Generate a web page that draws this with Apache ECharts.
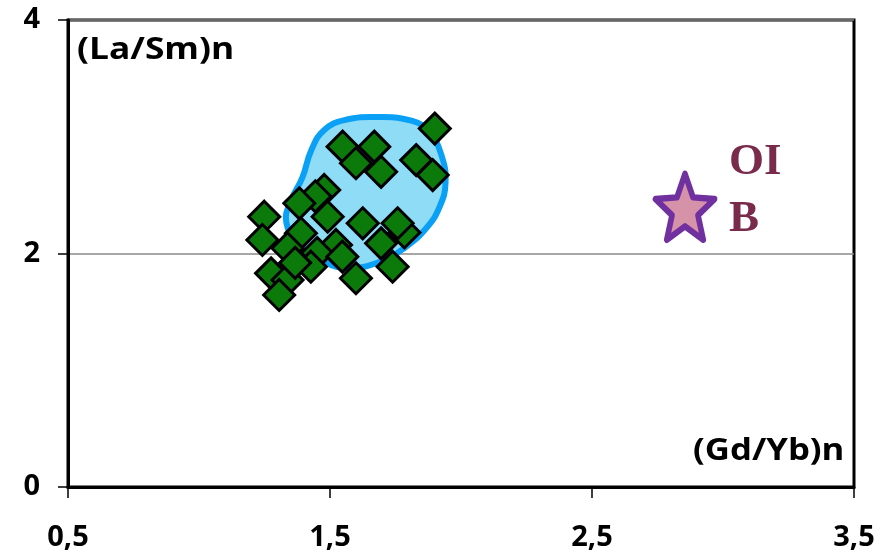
<!DOCTYPE html>
<html>
<head>
<meta charset="utf-8">
<script src="https://cdn.jsdelivr.net/npm/echarts@6/dist/echarts.min.js"></script>
<style>
  html, body { margin: 0; padding: 0; background: #ffffff; }
  #chart { width: 889px; height: 557px; }
</style>
</head>
<body>
<div id="chart"></div>
<script>
// (Gd/Yb)n and (La/Sm)n of the sample set
const sampleGdYb = [1.90, 1.548, 1.669, 1.599, 1.695, 1.829, 1.892, 1.478, 1.444, 1.383,
  1.491, 1.249, 1.389, 1.242, 1.338, 1.523, 1.451, 1.427, 1.275, 1.338,
  1.306, 1.625, 1.784, 1.758, 1.695, 1.739, 1.599, 1.547, 1.367];
const sampleLaSm = [3.07, 2.915, 2.915, 2.773, 2.70, 2.80, 2.672, 2.544, 2.49, 2.43,
  2.315, 2.315, 2.173, 2.116, 2.045, 2.073, 2.004, 1.887, 1.83, 1.773,
  1.645, 2.259, 2.18, 2.259, 2.087, 1.887, 1.788, 1.973, 1.92];

// Outline of the sample field
const fieldGdYb = [1.688, 1.814, 1.879, 1.925, 1.941, 1.918, 1.868, 1.784, 1.688, 1.574,
  1.478, 1.383, 1.333, 1.352, 1.394, 1.429, 1.478, 1.555];
const fieldLaSm = [3.169, 3.135, 3.041, 2.844, 2.604, 2.398, 2.218, 2.047, 1.927, 1.876,
  1.927, 2.073, 2.270, 2.458, 2.647, 2.887, 3.058, 3.143];

// Ocean island basalt reference point
const oibGdYb = [2.855];
const oibLaSm = [2.40];

const xTicks = [0.5, 1.5, 2.5, 3.5];
const yTicks = [0, 2, 4];

const starPath = 'path://M50 0 L62.93 32.2 L97.55 34.55 L70.92 56.8 L79.39 90.45 L50 72 L20.61 90.45 L29.08 56.8 L2.45 34.55 L37.07 32.2 Z';

const chart = echarts.init(document.getElementById('chart'), null, { renderer: 'canvas' });

const tickFont = { fontFamily: 'Open Sans', fontWeight: 'bold', fontSize: 29, color: '#000' };

chart.setOption({
  backgroundColor: '#ffffff',
  animation: false,
  grid: {
    left: 68, right: 35, top: 20, bottom: 70,
    show: true, borderColor: '#000', borderWidth: 3, backgroundColor: 'transparent'
  },
  xAxis: {
    type: 'value', min: xTicks[0], max: xTicks[xTicks.length - 1], interval: 1,
    axisLine: { show: true, lineStyle: { color: '#000', width: 3 } },
    axisTick: { show: true, inside: false, length: 11, lineStyle: { color: '#000', width: 1.5 } },
    axisLabel: Object.assign({ margin: 36, formatter: v => String(v.toFixed(1)).replace('.', ',') }, tickFont),
    splitLine: { show: false }
  },
  yAxis: {
    type: 'value', min: yTicks[0], max: yTicks[yTicks.length - 1], interval: 2,
    axisLine: { show: true, lineStyle: { color: '#000', width: 3 } },
    axisTick: { show: true, inside: false, length: 10, lineStyle: { color: '#000', width: 1.5 } },
    axisLabel: Object.assign({ margin: 28, formatter: v => String(v) }, tickFont),
    splitLine: { show: true, lineStyle: { color: '#8a8a8a', width: 1.5 } }
  },
  graphic: [
    { type: 'text', left: 77, top: 35, z: 100, scaleX: 1.14,
      style: { text: '(La/Sm)n', font: 'bold 31px "Open Sans"', fill: '#000' } },
    { type: 'text', left: 693, top: 436, z: 100, scaleX: 1.12,
      style: { text: '(Gd/Yb)n', font: 'bold 31px "Open Sans"', fill: '#000' } },
    { type: 'text', left: 729, top: 140, z: 100,
      style: { text: 'OI', font: 'bold 45px "Liberation Serif"', fill: '#7a2b4b' } },
    { type: 'text', left: 729, top: 197, z: 100,
      style: { text: 'B', font: 'bold 45px "Liberation Serif"', fill: '#7a2b4b' } }
  ],
  series: [
    {
      type: 'custom',
      z: 2,
      data: [[0]],
      renderItem: function (params, api) {
        const pts = fieldGdYb.map((x, i) => api.coord([x, fieldLaSm[i]]));
        return {
          type: 'polygon',
          shape: { points: pts, smooth: 0.45 },
          style: { fill: '#8fdcf7', stroke: '#0aa0f5', lineWidth: 6 }
        };
      },
      silent: true
    },
    {
      type: 'scatter',
      z: 3,
      symbol: 'diamond',
      symbolSize: 31,
      data: sampleGdYb.map((x, i) => [x, sampleLaSm[i]]),
      itemStyle: { color: '#0b7a0b', borderColor: '#000', borderWidth: 3, opacity: 1 }
    },
    {
      type: 'scatter',
      z: 4,
      symbol: starPath,
      symbolSize: [59, 66],
      data: oibGdYb.map((x, i) => [x, oibLaSm[i]]),
      itemStyle: { color: '#d592a8', borderColor: '#7030a0', borderWidth: 6, borderJoin: 'round', opacity: 1 }
    }
  ]
});
</script>
</body>
</html>
